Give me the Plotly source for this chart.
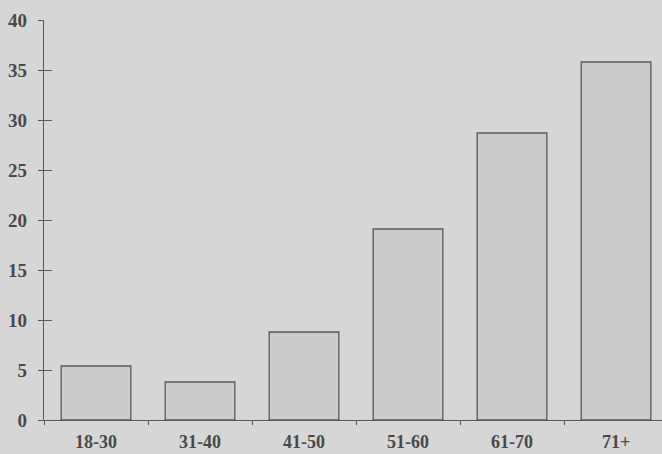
import plotly.graph_objects as go

categories = ["18-30", "31-40", "41-50", "51-60", "61-70", "71+"]
values = [5.4, 3.8, 8.8, 19.1, 28.7, 35.8]
y_ticks = [0, 5, 10, 15, 20, 25, 30, 35, 40]

bg = "#d6d6d6"
ink = "#4a4a4a"
line = "#5a5a5a"

fig = go.Figure()
fig.add_trace(go.Bar(
    x=categories, y=values, width=0.67,
    marker=dict(color="#cbcbcb", line=dict(color=line, width=1.3)),
    showlegend=False,
))
# invisible trace to keep overlaid axis for crossing ticks
fig.add_trace(go.Scatter(x=[categories[0]], y=[0], yaxis="y2", mode="markers",
                         marker=dict(opacity=0), showlegend=False, hoverinfo="skip"))

fig.update_layout(
    width=662, height=454,
    margin=dict(l=44, r=0, t=20, b=34, autoexpand=False),
    paper_bgcolor=bg, plot_bgcolor=bg,
    font=dict(family="Liberation Serif", color=ink),
    xaxis=dict(
        type="category", range=[-0.5, 5.442],
        showline=True, linecolor=line, linewidth=1.3,
        ticks="outside", ticklen=4, tickcolor=line, tickwidth=1.3,
        tickson="boundaries", showgrid=False,
        tickfont=dict(size=18, family="Liberation Serif", color=ink, weight="bold"),
        ticklabelstandoff=5,
    ),
    yaxis=dict(
        range=[0, 40], tickvals=y_ticks,
        showline=True, linecolor=line, linewidth=1.3,
        ticks="outside", ticklen=5, tickcolor=line, tickwidth=1.3,
        showgrid=False, zeroline=False,
        tickfont=dict(size=19, family="Liberation Serif", color=ink, weight="bold"),
        ticklabelstandoff=7,
    ),
    yaxis2=dict(
        range=[0, 40], tickvals=y_ticks, overlaying="y", side="left",
        showticklabels=False, ticks="inside", ticklen=8,
        tickcolor=line, tickwidth=1.3, showgrid=False, zeroline=False,
        showline=False,
    ),
)

fig.write_html(
    "out.html",
    config={"displayModeBar": False},
    post_script="document.body.style.margin='0';document.body.style.background='%s';" % bg,
)
